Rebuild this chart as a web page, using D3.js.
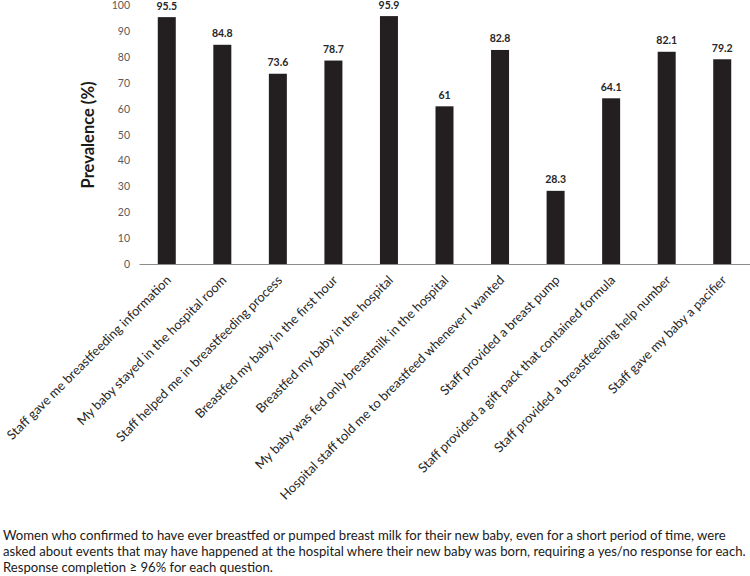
<!DOCTYPE html>
<html><head><meta charset="utf-8">
<script src="https://cdn.jsdelivr.net/npm/d3@7"></script>
<style>body{margin:0;background:#fff}svg{display:block}</style>
</head><body>
<svg id="c" width="750" height="576"></svg>
<script>
const categories = [
  "Staff gave me breastfeeding information",
  "My baby stayed in the hospital room",
  "Staff helped me in breastfeeding process",
  "Breastfed my baby in the first hour",
  "Breastfed my baby in the hospital",
  "My baby was fed only breastmilk in the hospital",
  "Hospital staff told me to breastfeed whenever I wanted",
  "Staff provided a breast pump",
  "Staff provided a gift pack that contained formula",
  "Staff provided a breastfeeding help number",
  "Staff gave my baby a pacifier"
];
const values = [95.5, 84.8, 73.6, 78.7, 95.9, 61, 82.8, 28.3, 64.1, 82.1, 79.2];
const valueLabels = ["95.5","84.8","73.6","78.7","95.9","61","82.8","28.3","64.1","82.1","79.2"];
const yTicks = [0,10,20,30,40,50,60,70,80,90,100];
const yTitle = "Prevalence (%)";
const footnote = [
  "Women who confirmed to have ever breastfed or pumped breast milk for their new baby, even for a short period of time, were",
  "asked about events that may have happened at the hospital where their new baby was born, requiring a yes/no response for each.",
  "Response completion \u2265 96% for each question."
];

const svg = d3.select("#c");
const FONT = "Lato, 'Open Sans', sans-serif";
const x = d3.scaleBand().domain(categories).range([139, 750]).paddingInner(0.676).paddingOuter(0.338);
const y = d3.scaleLinear().domain([0, 100]).range([264, 5.5]);

// y axis labels (no line)
const ya = svg.append("g").attr("transform", "translate(139,0)")
  .call(d3.axisLeft(y).tickValues(yTicks).tickSize(0).tickPadding(9));
ya.select(".domain").remove();
ya.selectAll("text").attr("font-family", FONT).attr("font-size", 10.5).attr("fill", "#595959");

// bars
svg.append("g").selectAll("rect").data(values).join("rect")
  .attr("x", (d,i) => x(categories[i]))
  .attr("y", d => y(d))
  .attr("width", x.bandwidth())
  .attr("height", d => y(0) - y(d))
  .attr("fill", "#231f20");

// x axis line
const xa = svg.append("g").attr("transform", "translate(0,264)")
  .call(d3.axisBottom(x).tickSize(0).tickSizeOuter(0).tickFormat(""));
xa.select(".domain").attr("stroke", "#8c8c8c").attr("stroke-width", 1.2);

// x labels rotated
svg.append("g").selectAll("text").data(categories).join("text")
  .attr("transform", d => `translate(${x(d) + x.bandwidth()/2 + 5},${281}) rotate(-45)`)
  .attr("text-anchor", "end")
  .attr("font-family", FONT).attr("font-size", 12.9).attr("fill", "#262626")
  .text(d => d);

// value labels
svg.append("g").selectAll("text").data(values).join("text")
  .attr("x", (d,i) => x(categories[i]) + x.bandwidth()/2)
  .attr("y", d => y(d) - 7.5)
  .attr("text-anchor", "middle")
  .attr("font-family", FONT).attr("font-size", 10.5).attr("font-weight", "bold").attr("fill", "#262626")
  .text((d,i) => valueLabels[i]);

// y title
svg.append("text")
  .attr("transform", "translate(94,135) rotate(-90)")
  .attr("text-anchor", "middle")
  .attr("font-family", FONT).attr("font-size", 16.5).attr("font-weight", "bold").attr("fill", "#1a1a1a")
  .text(yTitle);

// footnote, sized so the longest line fits the width like the reference
const fn = svg.append("g").selectAll("text").data(footnote).join("text")
  .attr("x", 3).attr("y", (d,i) => 540 + i*16)
  .attr("font-family", FONT).attr("font-size", 13.5).attr("fill", "#1a1a1a")
  .text(d => d);
const maxW = d3.max(fn.nodes(), n => n.getComputedTextLength());
fn.attr("font-size", 13.5 * 744 / maxW);
</script>
</body></html>
